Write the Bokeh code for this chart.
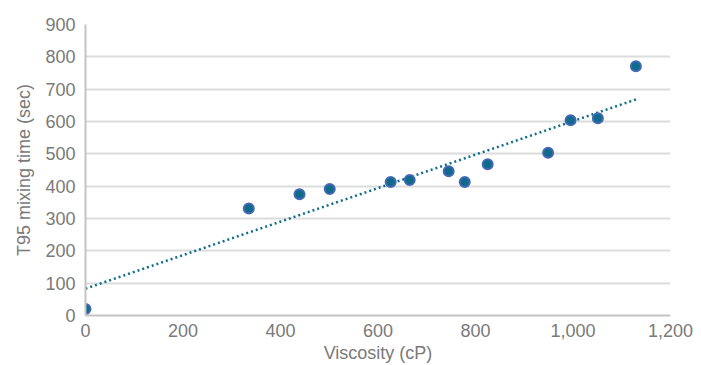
import numpy as np
from bokeh.plotting import figure
from bokeh.models import ColumnDataSource, Range1d, SingleIntervalTicker, NumeralTickFormatter
from bokeh.embed import file_html
from bokeh.resources import INLINE

viscosity = [0, 335, 439, 501, 626, 665, 745, 778, 825, 949, 995, 1051, 1129]
mixing_time = [20, 331, 375, 391, 413, 419, 446, 413, 468, 503, 604, 610, 771]

slope, intercept = np.polyfit(viscosity, mixing_time, 1)
trend_x = [min(viscosity), max(viscosity)]
trend_y = [intercept + slope * v for v in trend_x]

FONT = "Liberation Sans"
TXT = "#7a7a7a"

p = figure(width=701, height=365, output_backend="svg", toolbar_location=None,
           x_range=Range1d(0, 1200), y_range=Range1d(0, 900),
           min_border_left=85, min_border_right=31, min_border_top=24, min_border_bottom=50)
p.outline_line_color = None
p.background_fill_color = "white"

p.line(trend_x, trend_y, line_color="#0e6e8a", line_width=2.5, line_dash="2 3")
src = ColumnDataSource(dict(x=viscosity, y=mixing_time))
p.scatter("x", "y", source=src, size=10, fill_color="#0f6a8c", line_color="#4468b4", line_width=2)

p.xgrid.grid_line_color = None
p.ygrid.grid_line_color = "#dcdcdc"
p.ygrid.grid_line_width = 2

p.xaxis.ticker = SingleIntervalTicker(interval=200)
p.yaxis.ticker = SingleIntervalTicker(interval=100)
p.xaxis.formatter = NumeralTickFormatter(format="0,0")

for ax in (p.xaxis[0], p.yaxis[0]):
    ax.axis_line_color = "#c4c4c4"
    ax.axis_line_width = 2
    ax.major_tick_line_color = None
    ax.minor_tick_line_color = None
    ax.major_tick_out = 0
    ax.major_tick_in = 0
    ax.major_label_text_font = FONT
    ax.major_label_text_font_size = "18px"
    ax.major_label_text_color = TXT
    ax.axis_label_text_font = FONT
    ax.axis_label_text_font_size = "18px"
    ax.axis_label_text_font_style = "normal"
    ax.axis_label_text_color = TXT

p.xaxis.axis_label = "Viscosity (cP)"
p.yaxis.axis_label = "T95 mixing time (sec)"
p.xaxis.major_label_standoff = 4
p.yaxis.major_label_standoff = 6
p.xaxis.axis_label_standoff = 3
p.yaxis.axis_label_standoff = 8

open("out.html", "w").write(file_html(p, INLINE))
